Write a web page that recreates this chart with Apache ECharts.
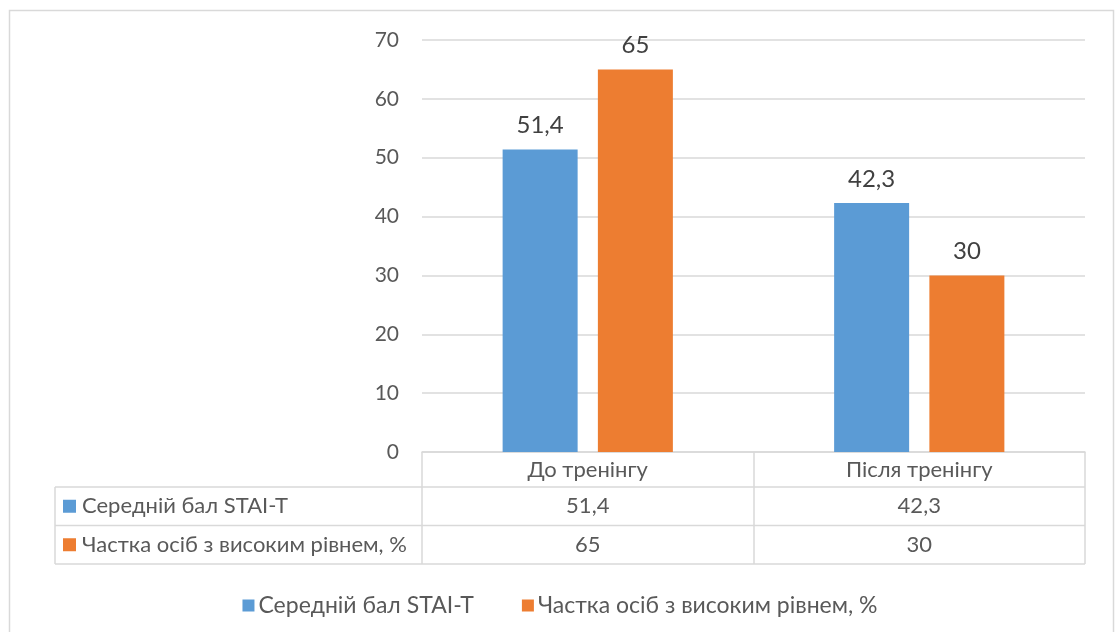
<!DOCTYPE html>
<html>
<head>
<meta charset="utf-8">
<script src="https://cdn.jsdelivr.net/npm/echarts@6/dist/echarts.min.js"></script>
<style>html,body{margin:0;padding:0;background:#fff}#c{width:1120px;height:632px}</style>
</head>
<body>
<div id="c"></div>
<script>
const categories = ['До тренінгу', 'Після тренінгу'];
const seriesNames = ['Середній бал STAI-T', 'Частка осіб з високим рівнем, %'];
const meanScore = [51.4, 42.3];
const highShare = [65, 30];
const yTicks = [0, 10, 20, 30, 40, 50, 60, 70];

const colors = ['#5B9BD5', '#ED7D31'];
const FONT = 'Lato, "Noto Sans", sans-serif';
const fmt = v => String(v).replace('.', ',');

const W = 1120, H = 632;
const gLeft = 422, gRight = 35, gTop = 40, gBottom = 180;
const axisY = H - gBottom;
const rowH = 38.5;
const tableLeft = 55;
const tableRight = W - gRight;
const lineColor = '#D9D9D9';
const textColor = '#595959';
const TXT = 22;

const chart = echarts.init(document.getElementById('c'));

const graphics = [
  {type: 'rect', shape: {x: 9.5, y: 10.5, width: 1104, height: 700}, style: {fill: 'none', stroke: lineColor, lineWidth: 1.5}, silent: true}
];
for (let k = 1; k <= 3; k++) {
  const y = axisY + 35 + (k - 1) * rowH;
  graphics.push({type: 'line', shape: {x1: tableLeft, y1: y, x2: tableRight, y2: y}, style: {stroke: lineColor, lineWidth: 1.5}, silent: true});
}
graphics.push({type: 'line', shape: {x1: tableLeft, y1: axisY + 35, x2: tableLeft, y2: axisY + 35 + 2 * rowH}, style: {stroke: lineColor, lineWidth: 1.5}, silent: true});
seriesNames.forEach((n, i) => {
  const cy = axisY + 35 + rowH * (i + 0.5);
  graphics.push({type: 'rect', shape: {x: 63, y: cy - 6.5, width: 13, height: 13}, style: {fill: colors[i]}, silent: true});
  graphics.push({type: 'text', x: 82, y: cy, style: {text: n, font: TXT + 'px ' + FONT, fill: textColor, verticalAlign: 'middle', align: 'left'}, silent: true});
});

const valueRows = [meanScore, highShare];

chart.setOption({
  animation: false,
  textStyle: {fontFamily: FONT},
  grid: {left: gLeft, right: gRight, top: gTop, bottom: gBottom, outerBoundsMode: 'none'},
  legend: {
    data: seriesNames, top: 589, left: 'center', icon: 'rect', itemWidth: 12, itemHeight: 12, itemGap: 48,
    textStyle: {fontSize: 23, color: textColor, fontFamily: FONT, padding: [0, 0, 0, -1]}
  },
  xAxis: [
    {
      type: 'category', data: categories, position: 'bottom',
      axisLine: {show: true, lineStyle: {color: lineColor, width: 1.5}},
      axisTick: {show: true, length: 35 + 2 * rowH, alignWithLabel: false, lineStyle: {color: lineColor, width: 1.5}},
      axisLabel: {fontSize: TXT, color: textColor, margin: 18, verticalAlign: 'middle', fontFamily: FONT},
      splitLine: {show: false}
    },
    ...valueRows.map((row, r) => ({
      type: 'category', data: categories, position: 'bottom', gridIndex: 0,
      axisLine: {show: false}, axisTick: {show: false}, splitLine: {show: false},
      axisLabel: {fontSize: TXT, color: textColor, margin: 35 + rowH * (r + 0.5), verticalAlign: 'middle', fontFamily: FONT,
        formatter: (v, i) => fmt(row[i])}
    }))
  ],
  yAxis: {
    type: 'value', min: 0, max: 70, interval: 10,
    axisLine: {show: false}, axisTick: {show: false},
    axisLabel: {fontSize: 21, color: textColor, margin: 23, fontFamily: FONT, formatter: v => yTicks.includes(v) ? String(v) : ''},
    splitLine: {lineStyle: {color: lineColor, width: 1.5}}
  },
  series: [meanScore, highShare].map((d, i) => ({
    name: seriesNames[i], type: 'bar', data: d, xAxisIndex: 0,
    barWidth: 75, barGap: '27%',
    itemStyle: {color: colors[i]},
    label: {show: true, position: 'top', distance: 12, fontSize: 24, color: '#404040', fontFamily: FONT, formatter: p => fmt(p.value)}
  })),
  graphic: graphics
});
</script>
</body>
</html>
